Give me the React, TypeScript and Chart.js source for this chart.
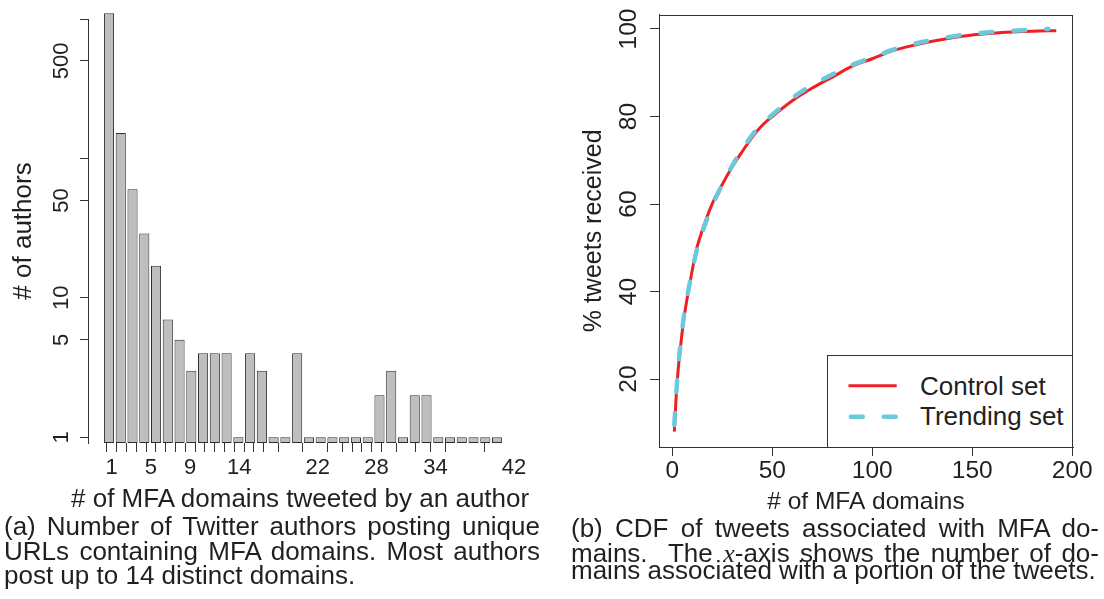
import React, { useEffect, useRef } from 'react';
import Chart from 'chart.js/auto';

const FONT = '"Liberation Sans", Arial, Helvetica, sans-serif';
const INK = '#231f20';
const LINE = '#333333';
const RED = '#ee2024';
const BLUE = '#6cc9dc';

// ---------- Panel (a): number of authors per count of MFA domains ----------
const authorCounts = [1100, 152, 60, 29, 17, 7, 5, 3, 4, 4, 4, 1, 4, 3, 1, 1, 4, 1, 1, 1, 1, 1, 1, 2, 3, 1, 2, 2, 1, 1, 1, 1, 1, 1];
const domainAxisTicks = [1, 2, 3, 4, 5, 6, 7, 8, 9, 10, 11, 12, 13, 14, 15, 16, 17, 19, 22, 24, 25, 26, 27, 28, 29, 31, 33, 34, 36, 42];
const domainAxisLabels = [1, 5, 9, 14, 22, 28, 34, 42];
const authorAxisTicks = [1, 5, 10, 50, 100, 500, 1000];
const authorAxisLabels = [1, 5, 10, 50, 500];

// ---------- Panel (b): CDF of tweets per MFA domain ----------
const controlDomains = [1, 2, 3, 4, 5, 6, 8, 10, 12, 15, 20, 25, 30, 35, 40, 45, 50, 60, 70, 80, 90, 100, 110, 120, 130, 140, 150, 160, 170, 180, 192];
const controlPct = [8.0, 16.5, 22.5, 27, 31, 34.5, 40, 45, 49.5, 54, 60.1, 64.5, 68.5, 72, 75.3, 78, 80, 83.6, 86.5, 89, 91.5, 93.2, 95, 96.2, 97.2, 98, 98.6, 99.0, 99.3, 99.5, 99.6];
const trendingDomains = [1, 2, 3, 4, 5, 6, 8, 10, 12, 15, 20, 25, 30, 35, 40, 45, 50, 60, 70, 80, 90, 100, 110, 120, 130, 140, 150, 160, 170, 180, 188];
const trendingPct = [9.5, 17, 23, 27.5, 31.5, 35, 40.2, 44.8, 49, 53.5, 59.6, 64.5, 68.8, 72.5, 75.8, 78.4, 80.4, 84.2, 87.2, 89.6, 91.8, 93.5, 95.2, 96.5, 97.5, 98.3, 98.9, 99.3, 99.6, 99.8, 100];
const cdfXTicks = [0, 50, 100, 150, 200];
const cdfYTicks = [20, 40, 60, 80, 100];
const legendLabels = ['Control set', 'Trending set'];

function BarPanel() {
  const ref = useRef<HTMLCanvasElement | null>(null);
  useEffect(() => {
    if (!ref.current) return;
    const chart = new Chart(ref.current, {
      type: 'bar',
      data: {
        datasets: [
          {
            data: authorCounts.map((v, i) => ({ x: i, y: v })),
            xAxisID: 'xb',
            yAxisID: 'y',
            backgroundColor: '#bebebe',
            borderColor: '#2e2e2e',
            borderWidth: 1,
            borderSkipped: false,
            barPercentage: 0.86,
            categoryPercentage: 1,
            clip: false,
          },
        ],
      },
      options: {
        animation: false,
        responsive: false,
        devicePixelRatio: 1,
        layout: { padding: { top: 19, right: 15, bottom: 0, left: 0 } },
        plugins: { legend: { display: false }, tooltip: { enabled: false } },
        scales: {
          xb: { type: 'linear', display: false, offset: false, min: -1.786, max: 34.95 },
          x2: {
            type: 'linear',
            position: 'bottom',
            offset: false,
            min: -1.416,
            max: 42.62,
            afterBuildTicks: (s: any) => {
              s.ticks = domainAxisTicks.map((v) => ({ value: v }));
            },
            afterFit: (s: any) => {
              s.height = 37;
            },
            grid: { drawOnChartArea: false, drawTicks: true, tickLength: 9, color: LINE, lineWidth: 1 },
            border: { display: false },
            ticks: {
              autoSkip: false,
              maxRotation: 0,
              minRotation: 0,
              padding: 3,
              color: INK,
              font: { family: FONT, size: 22 },
              callback: (v: any) => (domainAxisLabels.includes(Number(v)) ? String(v) : ''),
            },
          },
          y: {
            type: 'logarithmic',
            position: 'left',
            min: 0.91,
            max: 1000,
            afterBuildTicks: (s: any) => {
              s.ticks = authorAxisTicks.map((v) => ({ value: v }));
            },
            afterFit: (s: any) => {
              s.width = 88;
            },
            grid: { drawOnChartArea: false, drawTicks: true, tickLength: 8, color: LINE, lineWidth: 1 },
            border: { display: true, color: LINE, width: 1 },
            ticks: {
              autoSkip: false,
              minRotation: 90,
              maxRotation: 90,
              crossAlign: 'center',
              padding: 0,
              color: INK,
              font: { family: FONT, size: 22 },
              callback: (v: any) => (authorAxisLabels.includes(Number(v)) ? String(v) : ''),
            },
            title: {
              display: true,
              text: '# of authors',
              color: INK,
              font: { family: FONT, size: 26 },
              padding: { top: 8.7, bottom: 0 },
            },
          },
        },
      },
    } as any);
    return () => chart.destroy();
  }, []);
  return (
    <canvas
      ref={ref}
      width={535}
      height={480}
      style={{ position: 'absolute', left: 0, top: 0, width: 535, height: 480 }}
    />
  );
}

const framePlugin = {
  id: 'frameBox',
  afterDraw(chart: any) {
    const { ctx, chartArea: a } = chart;
    ctx.save();
    ctx.strokeStyle = LINE;
    ctx.lineWidth = 1;
    ctx.strokeRect(Math.round(a.left) + 0.5, Math.round(a.top) + 0.5, Math.round(a.right) - Math.round(a.left) - 1, Math.round(a.bottom) - Math.round(a.top));
    ctx.restore();
  },
};

function CdfPanel() {
  const ref = useRef<HTMLCanvasElement | null>(null);
  useEffect(() => {
    if (!ref.current) return;
    const chart = new Chart(ref.current, {
      type: 'line',
      data: {
        datasets: [
          {
            label: legendLabels[1],
            data: trendingDomains.map((x, i) => ({ x, y: trendingPct[i] })),
            borderColor: BLUE,
            borderWidth: 4.5,
            borderDash: [12, 21],
            borderCapStyle: 'round',
            pointRadius: 0,
            fill: false,
            cubicInterpolationMode: 'monotone',
            order: 0,
          },
          {
            label: legendLabels[0],
            data: controlDomains.map((x, i) => ({ x, y: controlPct[i] })),
            borderColor: RED,
            borderWidth: 3,
            pointRadius: 0,
            fill: false,
            cubicInterpolationMode: 'monotone',
            order: 1,
          },
        ],
      },
      options: {
        animation: false,
        responsive: false,
        devicePixelRatio: 1,
        layout: { padding: { top: 14, right: 31, bottom: 0, left: 0 } },
        plugins: { legend: { display: false }, tooltip: { enabled: false } },
        scales: {
          x: {
            type: 'linear',
            position: 'bottom',
            min: -6.65,
            max: 200.35,
            afterBuildTicks: (s: any) => {
              s.ticks = cdfXTicks.map((v) => ({ value: v }));
            },
            afterFit: (s: any) => {
              s.height = 73;
            },
            grid: { drawOnChartArea: false, drawTicks: true, tickLength: 9, color: LINE, lineWidth: 1 },
            border: { display: true, color: LINE, width: 1 },
            ticks: {
              autoSkip: false,
              maxRotation: 0,
              minRotation: 0,
              padding: 1,
              color: INK,
              font: { family: FONT, size: 24.5 },
              callback: (v: any) => String(v),
            },
            title: {
              display: true,
              text: '# of MFA domains',
              color: INK,
              font: { family: FONT, size: 24.5 },
              padding: { top: 0, bottom: 3.5 },
            },
          },
          y: {
            type: 'linear',
            position: 'left',
            min: 4.49,
            max: 103.26,
            afterBuildTicks: (s: any) => {
              s.ticks = cdfYTicks.map((v) => ({ value: v }));
            },
            afterFit: (s: any) => {
              s.width = 99;
            },
            grid: { drawOnChartArea: false, drawTicks: true, tickLength: 9, color: LINE, lineWidth: 1 },
            border: { display: true, color: LINE, width: 1 },
            ticks: {
              autoSkip: false,
              minRotation: 90,
              maxRotation: 90,
              crossAlign: 'center',
              padding: 0,
              color: INK,
              font: { family: FONT, size: 24.5 },
              callback: (v: any) => String(v),
            },
            title: {
              display: true,
              text: '% tweets received',
              color: INK,
              font: { family: FONT, size: 25 },
              padding: { top: 19.6, bottom: 0 },
            },
          },
        },
      },
      plugins: [framePlugin],
    } as any);
    return () => chart.destroy();
  }, []);
  return (
    <canvas
      ref={ref}
      width={544}
      height={520}
      style={{ position: 'absolute', left: 560, top: 0, width: 544, height: 520 }}
    />
  );
}

function Legend() {
  return (
    <div
      style={{
        position: 'absolute',
        left: 827,
        top: 355,
        width: 245,
        height: 92,
        boxSizing: 'border-box',
        borderLeft: `1px solid ${LINE}`,
        borderTop: `1px solid ${LINE}`,
        background: '#ffffff',
      }}
    >
      <svg width={245} height={92} style={{ position: 'absolute', left: -1, top: -1 }}>
        <line x1={21.5} y1={30.7} x2={69.7} y2={30.7} stroke={RED} strokeWidth={3} />
        <line
          x1={23.75}
          y1={61.7}
          x2={70.5}
          y2={61.7}
          stroke={BLUE}
          strokeWidth={4.5}
          strokeDasharray="12 21"
          strokeLinecap="round"
        />
      </svg>
      {legendLabels.map((t, i) => (
        <div
          key={t}
          style={{
            position: 'absolute',
            left: 92,
            top: 17 + i * 30,
            fontFamily: FONT,
            fontSize: 26,
            lineHeight: '26px',
            color: INK,
            whiteSpace: 'nowrap',
          }}
        >
          {t}
        </div>
      ))}
    </div>
  );
}

function CapLine(props: { left: number; top: number; width: number; justify?: boolean; children: any }) {
  const { left, top, width, justify, children } = props;
  return (
    <div
      style={{
        position: 'absolute',
        left,
        top,
        width,
        fontFamily: FONT,
        fontSize: 26,
        lineHeight: '26px',
        color: INK,
        textAlign: justify ? 'justify' : 'left',
        textAlignLast: justify ? 'justify' : 'left',
      } as any}
    >
      {children}
    </div>
  );
}

export default function App() {
  return (
    <div
      style={{
        position: 'absolute',
        left: 0,
        top: 0,
        width: 1104,
        height: 599,
        background: '#ffffff',
        overflow: 'hidden',
      }}
    >
      <BarPanel />
      <div style={{ position: 'absolute', left: 0, top: 0, width: 536, height: 599, overflow: 'hidden' }}>
        <div
          style={{
            position: 'absolute',
            left: 71,
            top: 485,
            fontFamily: FONT,
            fontSize: 26,
            lineHeight: '26px',
            color: INK,
            whiteSpace: 'nowrap',
          }}
        >
          # of MFA domains tweeted by an author
        </div>
      </div>
      <CdfPanel />
      <Legend />
      <CapLine left={4} top={513} width={536} justify>
        (a) Number of Twitter authors posting unique
      </CapLine>
      <CapLine left={4} top={538} width={536} justify>
        URLs containing MFA domains. Most authors
      </CapLine>
      <CapLine left={4} top={562} width={536}>
        post up to 14 distinct domains.
      </CapLine>
      <CapLine left={571} top={515} width={528} justify>
        (b) CDF of tweets associated with MFA do-
      </CapLine>
      <CapLine left={571} top={540} width={528} justify>
        mains.{'\u00a0'} The <i style={{ fontFamily: '"Liberation Serif", "DejaVu Serif", serif' }}>x</i>-axis shows the number of do-
      </CapLine>
      <CapLine left={571} top={557} width={528}>
        mains associated with a portion of the tweets.
      </CapLine>
    </div>
  );
}
